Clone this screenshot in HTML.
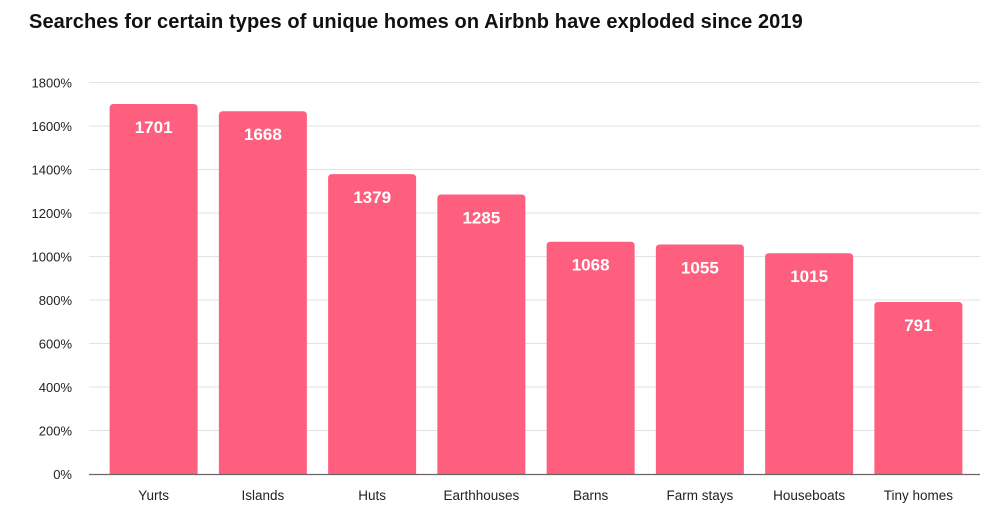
<!DOCTYPE html>
<html><head><meta charset="utf-8"><style>
body{margin:0;background:#fff;width:1000px;height:531px;overflow:hidden;font-family:"Liberation Sans",sans-serif}
h1{position:absolute;left:29px;top:11px;margin:0;font-size:20px;font-weight:bold;color:#111;letter-spacing:0.1px}
</style></head><body>
<h1>Searches for certain types of unique homes on Airbnb have exploded since 2019</h1>
<svg id="c" width="1000" height="531" style="position:absolute;left:0;top:0"></svg>
<script>
const categories=["Yurts","Islands","Huts","Earthhouses","Barns","Farm stays","Houseboats","Tiny homes"];
const values=[1701,1668,1379,1285,1068,1055,1015,791];
const yTicks=[0,200,400,600,800,1000,1200,1400,1600,1800];
const svg=document.getElementById('c');
const NS='http://www.w3.org/2000/svg';
const x0=99,band=109.25,barW=88,y0=474,yMax=1800,yTop=82.5;
const y=v=>y0-(v/yMax)*(y0-yTop);
const xb=i=>x0+i*band+(band-barW)/2;
function mk(t,a){const e=document.createElementNS(NS,t);for(const k in a)e.setAttribute(k,a[k]);svg.appendChild(e);return e;}
yTicks.forEach(t=>{
  if(t>0){const g=mk('line',{x1:89,x2:980,y1:y(t),y2:y(t),stroke:'#e3e3e3','stroke-width':1});
  
  }
  const l=mk('text',{x:72,y:y(t)+5,'text-anchor':'end','font-size':13,fill:'#222'});
  l.textContent=t+'%';
  
  
});
categories.forEach((c,i)=>{
  const v=values[i],top=y(v);
  const b=mk('path',{d:`M${xb(i)},${y0}V${top+4}Q${xb(i)},${top} ${xb(i)+4},${top}H${xb(i)+barW-4}Q${xb(i)+barW},${top} ${xb(i)+barW},${top+4}V${y0}Z`,fill:'#ff5f7e'});
  
  
  const t=mk('text',{x:xb(i)+barW/2,y:top+29,'text-anchor':'middle','font-size':17,'font-weight':'bold',fill:'#fff'});
  t.textContent=v;
  
  
  const xl=mk('text',{x:xb(i)+barW/2,y:500,'text-anchor':'middle','font-size':13.5,fill:'#222'});
  xl.textContent=c;
  
  
});
const ax=mk('line',{x1:89,x2:980,y1:y0+0.5,y2:y0+0.5,stroke:'#666','stroke-width':1.3});


</script>
</body></html>
